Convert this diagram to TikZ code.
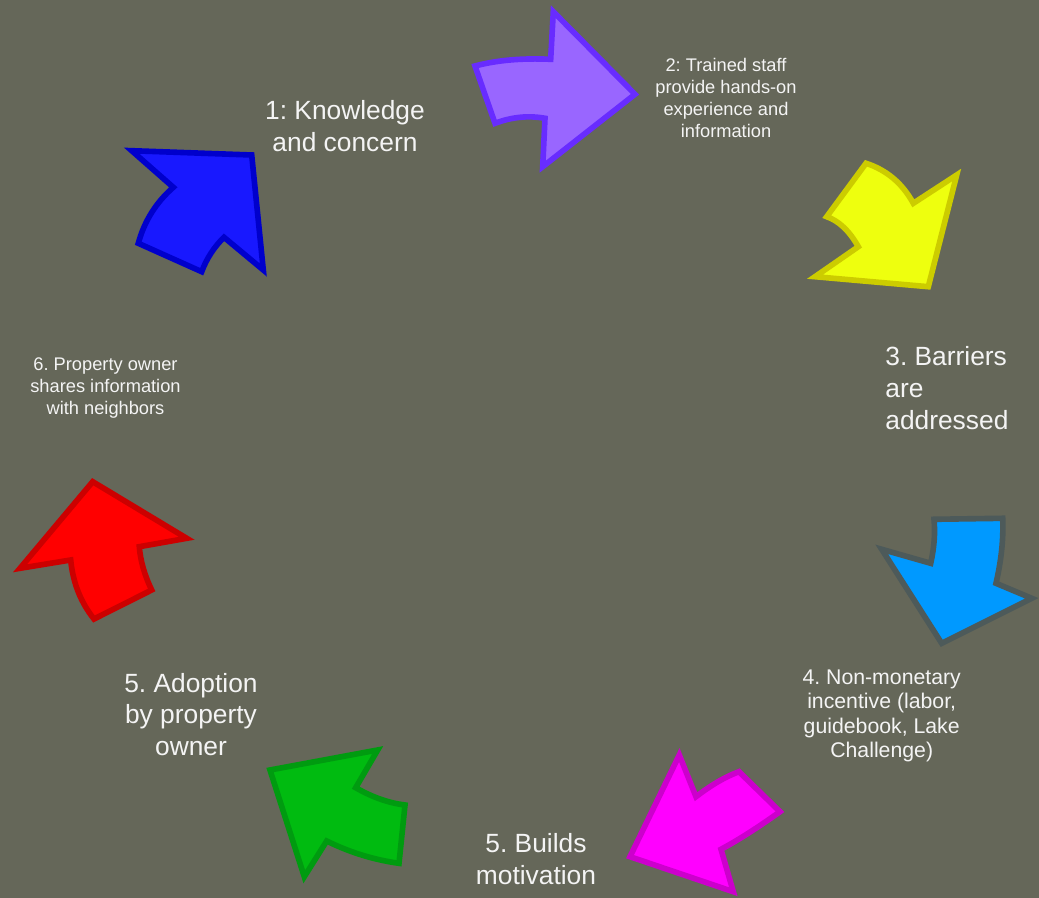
\documentclass[tikz,border=0pt]{standalone}
\usepackage{fontspec}
\setmainfont{Liberation Sans}
\frenchspacing
\usepackage{tikz}
\usetikzlibrary{positioning}
\usepackage{xcolor}
\definecolor{bgfond}{HTML}{656759}
\definecolor{txtcol}{HTML}{F4F4F4}
\tikzset{
lbl_big/.style = {align=center, inner sep=0pt, text=txtcol, font=\fontsize{15}{18.1}\selectfont},% texte grand
lbl_small/.style = {align=center, inner sep=0pt, text=txtcol, font=\fontsize{10.4}{12.5}\selectfont},% texte petit
lbl_mid/.style = {align=center, inner sep=0pt, text=txtcol, font=\fontsize{12.1}{13.9}\selectfont},% texte moyen
fleche/.style = {line width=3.2pt, line join=miter},% fleche courbe
fl_violet/.style = {fleche, fill={rgb,255:red,153;green,102;blue,255}, draw={rgb,255:red,104;green,44;blue,255}},
fl_bleu/.style = {fleche, fill={rgb,255:red,24;green,24;blue,255}, draw={rgb,255:red,0;green,0;blue,204}},
fl_jaune/.style = {fleche, fill={rgb,255:red,238;green,255;blue,14}, draw={rgb,255:red,204;green,204;blue,0}},
fl_cyan/.style = {fleche, fill={rgb,255:red,0;green,153;blue,255}, draw={rgb,255:red,77;green,90;blue,90}},
fl_magenta/.style = {fleche, fill={rgb,255:red,255;green,0;blue,255}, draw={rgb,255:red,204;green,0;blue,204}},
fl_vert/.style = {fleche, fill={rgb,255:red,0;green,187;blue,16}, draw={rgb,255:red,0;green,155;blue,16}},
fl_rouge/.style = {fleche, fill={rgb,255:red,255;green,0;blue,0}, draw={rgb,255:red,204;green,0;blue,0}}
}

\begin{document}
\begin{tikzpicture}[x=0.02cm, y=-0.02cm]
	\fill[bgfond] (0,0) rectangle (1039,898);
	\useasboundingbox (0,0) rectangle (1039,898);
	% fleches du cycle
	\draw[fl_bleu] (131.7,150.7) -- (251.7,155) -- (263.3,270) -- (224,237.3)
	  .. controls (214,247.1) and (206.6,258.6) .. (201.7,271.7) -- (138.3,243.3)
	  .. controls (144.3,221.2) and (156,202.5) .. (173.3,187.3) -- cycle;
	\draw[fl_violet] (475,66) .. controls (496.7,60.2) and (521.9,58) .. (550.7,59.3) -- (553.3,11.7)
	  -- (635,94.3) -- (542.7,166.7) -- (545,118.3)
	  .. controls (528.3,115.3) and (511.7,117) .. (495,123.3) -- cycle;
	\draw[fl_jaune] (866,163.3) .. controls (886.6,170) and (902.4,183.3) .. (913.3,203.3) -- (956.7,175)
	  -- (928.3,286.7) -- (815,276.7) -- (858.3,246.7)
	  .. controls (849.4,230.9) and (838.9,220.9) .. (826.7,216.7) -- cycle;
	\draw[fl_cyan] (934,519.3) -- (1002.7,518.3) .. controls (1003.6,538.8) and (1001.3,560.4) .. (996,583.3)
	  -- (1031.7,598.3) -- (941.7,643.3) -- (881.7,549.3) -- (930.7,563.3)
	  .. controls (934.2,547.8) and (935.3,533.1) .. cycle;
	\draw[fl_magenta] (679.3,755) -- (696,796.7) .. controls (711.3,784.9) and (725.7,776.6) .. (739,771.7)
	  -- (780,811.7) .. controls (757.3,827.9) and (737.7,840.4) .. (721,849.3) -- (733.3,891.7)
	  -- (630,856.7) -- cycle;
	\draw[fl_vert] (270,770) -- (377.7,750) -- (355.7,787.7) .. controls (372.2,797.2) and (388.6,803) .. (405,805)
	  -- (399,863.3) .. controls (373.7,859.8) and (349.6,852.3) .. (326.7,841) -- (304.3,876.7) -- cycle;
	\draw[fl_rouge] (92.7,481.7) -- (186.7,538.3) -- (139.3,546.7) .. controls (140.4,560.9) and (144.6,575.3) .. (151.7,590)
	  -- (94,619) .. controls (80.7,602.3) and (72.9,582.7) .. (70.7,560) -- (20,568.3) -- cycle;
	% textes
	\node[lbl_big] (etape1) at (345,126) {1: Knowledge\\and concern};
	\node[lbl_small] (etape2) at (726,98.3) {2: Trained staff\\provide hands-on\\experience and\\information};
	\node[lbl_big, align=left, anchor=west] (etape3) at (885,388) {3. Barriers\\are\\addressed};
	\node[lbl_mid] (etape4) at (881.7,716) {4. Non-monetary\\incentive (labor,\\guidebook, Lake\\Challenge)};
	\node[lbl_big] (etape5) at (536,859) {5. Builds\\motivation};
	\node[lbl_big] (adoption) at (191,714.5) {5. Adoption\\by property\\owner};
	\node[lbl_small] (etape6) at (105.5,388) {6. Property owner\\shares information\\with neighbors};
\end{tikzpicture}
\end{document}
